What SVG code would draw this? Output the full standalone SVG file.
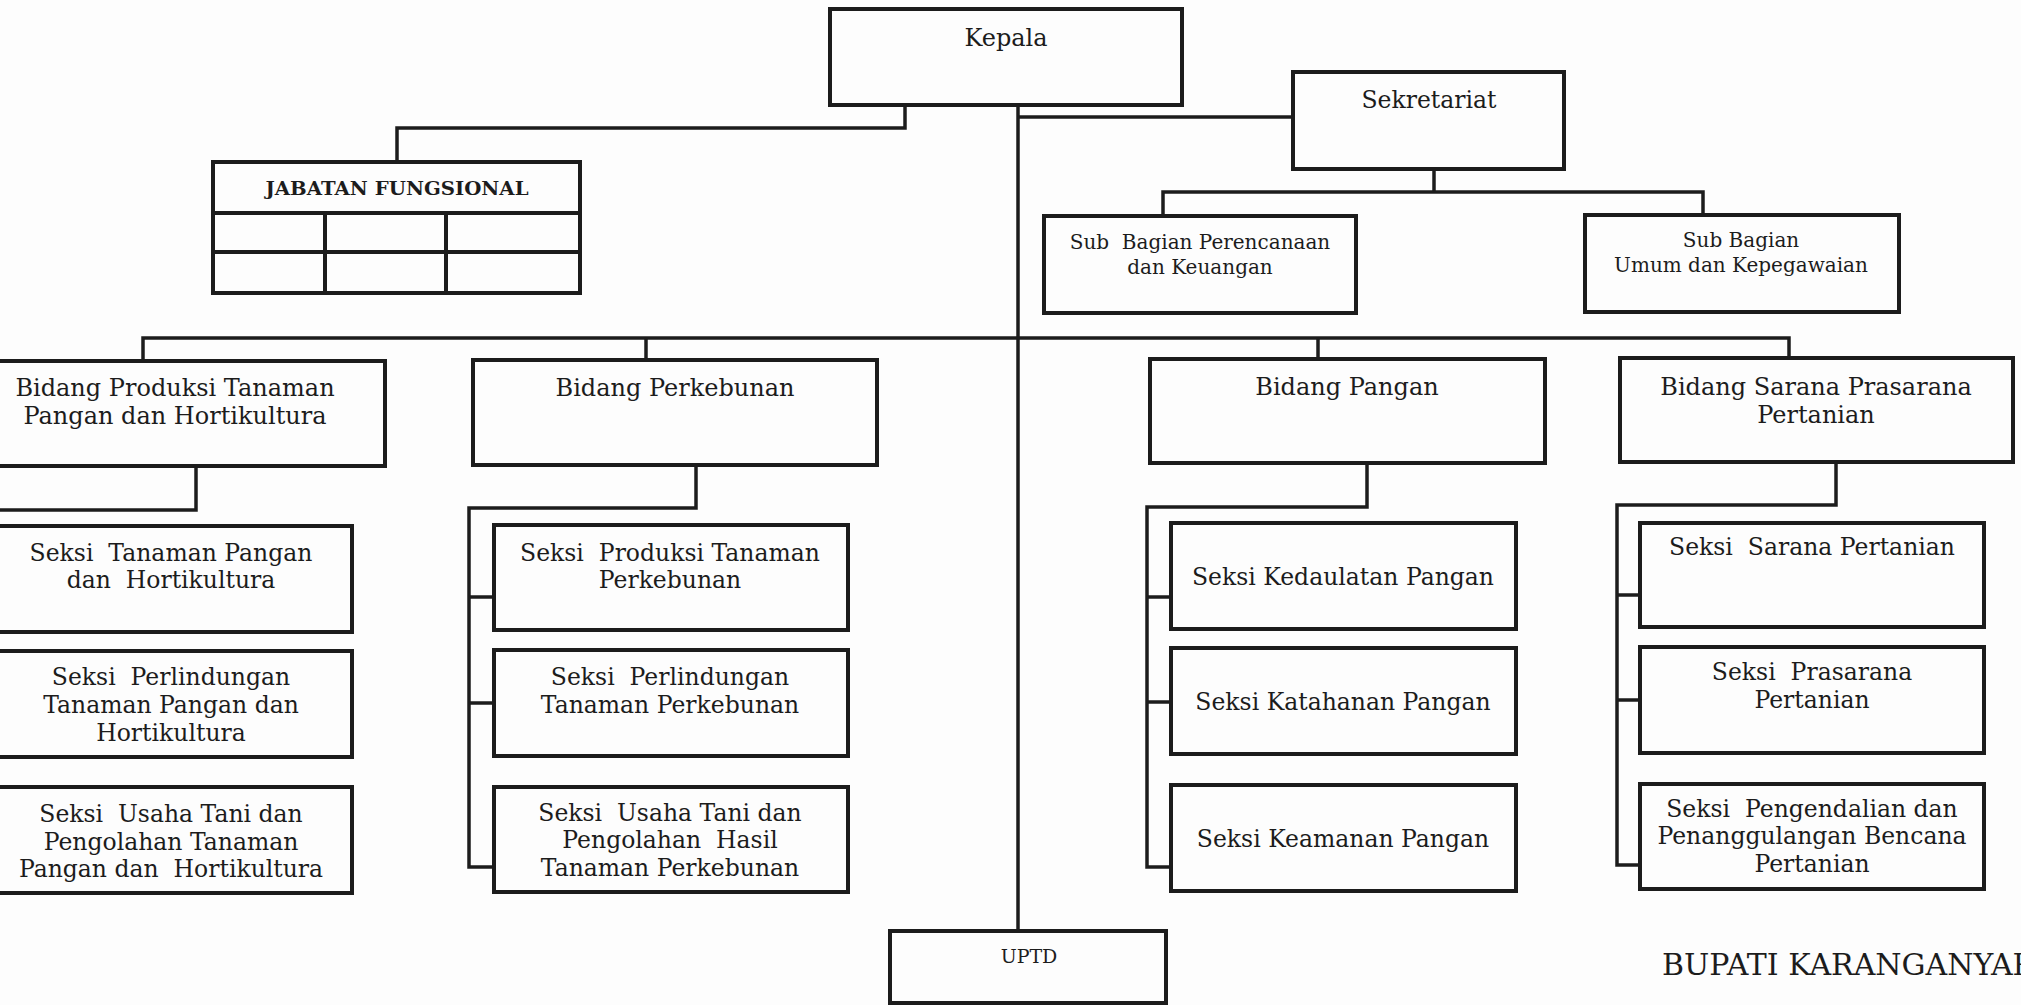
<svg xmlns="http://www.w3.org/2000/svg" width="2021" height="1005" viewBox="0 0 2021 1005">
<style>
.box{fill:none;stroke:#1c1c1c;stroke-width:4}
.ln{fill:none;stroke:#1c1c1c;stroke-width:3.5}
text{font-family:"DejaVu Serif","Liberation Serif",serif;fill:#1c1c1c;text-anchor:middle;white-space:pre}
.t24{font-size:24px}
.t23{font-size:23.5px}
.t20{font-size:20px}
.small{font-size:19px}
</style>
<rect x="0" y="0" width="2021" height="1005" fill="#fdfdfd"/>
<g id="connectors">
<path class="ln" d="M1018 105 V931"/>
<path class="ln" d="M905 105 V128 H397 V162"/>
<path class="ln" d="M1018 117 H1293"/>
<path class="ln" d="M1434 169 V192 M1163 216 V192 H1703 V215"/>
<path class="ln" d="M143 361 V338 H1789 V358 M646 338 V360 M1318 338 V359"/>
<path class="ln" d="M196 466 V510 H-5"/>
<path class="ln" d="M696 465 V508 H469 V867 H494 M469 597 H494 M469 703 H494"/>
<path class="ln" d="M1367 463 V507 H1147 V867 H1171 M1147 597 H1171 M1147 702 H1171"/>
<path class="ln" d="M1836 462 V505 H1617 V865 H1640 M1617 595 H1640 M1617 700 H1640"/>
</g>
<g id="kepala"><rect class="box" x="830" y="9" width="352" height="96"/><text class="t24" x="1006" y="46">Kepala</text></g>
<g id="sekretariat"><rect class="box" x="1293" y="72" width="271" height="97"/><text class="t23" x="1429" y="108">Sekretariat</text></g>
<g id="jabatan-fungsional"><rect class="box" x="213" y="162" width="367" height="131"/>
<path class="box" d="M213 213 H580 M213 252 H580 M325 213 V293 M446 213 V293"/>
<text class="small" x="397" y="195" font-weight="bold" textLength="263" lengthAdjust="spacingAndGlyphs">JABATAN FUNGSIONAL</text></g>
<g id="sub-perencanaan"><rect class="box" x="1044" y="216" width="312" height="97"/><text class="t20" x="1200" y="249">Sub  Bagian Perencanaan</text><text class="t20" x="1200" y="274">dan Keuangan</text></g>
<g id="sub-umum"><rect class="box" x="1585" y="215" width="314" height="97"/><text class="t20" x="1741" y="247">Sub Bagian</text><text class="t20" x="1741" y="272">Umum dan Kepegawaian</text></g>
<g id="bidang-produksi"><rect class="box" x="-10" y="361" width="395" height="105"/><text class="t24" x="175" y="396">Bidang Produksi Tanaman</text><text class="t24" x="175" y="424">Pangan dan Hortikultura</text></g>
<g id="bidang-perkebunan"><rect class="box" x="473" y="360" width="404" height="105"/><text class="t24" x="675" y="396">Bidang Perkebunan</text></g>
<g id="bidang-pangan"><rect class="box" x="1150" y="359" width="395" height="104"/><text class="t24" x="1347" y="395">Bidang Pangan</text></g>
<g id="bidang-sarana"><rect class="box" x="1620" y="358" width="393" height="104"/><text class="t24" x="1816" y="395">Bidang Sarana Prasarana</text><text class="t24" x="1816" y="423">Pertanian</text></g>
<g id="seksi-tanaman-pangan"><rect class="box" x="-10" y="526" width="362" height="106"/><text class="t23" x="171" y="561">Seksi  Tanaman Pangan</text><text class="t23" x="171" y="588">dan  Hortikultura</text></g>
<g id="seksi-perlindungan-tp"><rect class="box" x="-10" y="651" width="362" height="106"/><text class="t23" x="171" y="685">Seksi  Perlindungan</text><text class="t23" x="171" y="713">Tanaman Pangan dan</text><text class="t23" x="171" y="741">Hortikultura</text></g>
<g id="seksi-usaha-tani-tp"><rect class="box" x="-10" y="787" width="362" height="106"/><text class="t23" x="171" y="822">Seksi  Usaha Tani dan</text><text class="t23" x="171" y="850">Pengolahan Tanaman</text><text class="t23" x="171" y="877">Pangan dan  Hortikultura</text></g>
<g id="seksi-produksi-perkebunan"><rect class="box" x="494" y="525" width="354" height="105"/><text class="t23" x="670" y="561">Seksi  Produksi Tanaman</text><text class="t23" x="670" y="588">Perkebunan</text></g>
<g id="seksi-perlindungan-perkebunan"><rect class="box" x="494" y="650" width="354" height="106"/><text class="t23" x="670" y="685">Seksi  Perlindungan</text><text class="t23" x="670" y="713">Tanaman Perkebunan</text></g>
<g id="seksi-usaha-tani-perkebunan"><rect class="box" x="494" y="787" width="354" height="105"/><text class="t23" x="670" y="821">Seksi  Usaha Tani dan</text><text class="t23" x="670" y="848">Pengolahan  Hasil</text><text class="t23" x="670" y="876">Tanaman Perkebunan</text></g>
<g id="seksi-kedaulatan"><rect class="box" x="1171" y="523" width="345" height="106"/><text class="t23" x="1343" y="585">Seksi Kedaulatan Pangan</text></g>
<g id="seksi-katahanan"><rect class="box" x="1171" y="648" width="345" height="106"/><text class="t23" x="1343" y="710">Seksi Katahanan Pangan</text></g>
<g id="seksi-keamanan"><rect class="box" x="1171" y="785" width="345" height="106"/><text class="t23" x="1343" y="847">Seksi Keamanan Pangan</text></g>
<g id="seksi-sarana"><rect class="box" x="1640" y="523" width="344" height="104"/><text class="t23" x="1812" y="555">Seksi  Sarana Pertanian</text></g>
<g id="seksi-prasarana"><rect class="box" x="1640" y="647" width="344" height="106"/><text class="t23" x="1812" y="680">Seksi  Prasarana</text><text class="t23" x="1812" y="708">Pertanian</text></g>
<g id="seksi-pengendalian"><rect class="box" x="1640" y="784" width="344" height="105"/><text class="t23" x="1812" y="817">Seksi  Pengendalian dan</text><text class="t23" x="1812" y="844">Penanggulangan Bencana</text><text class="t23" x="1812" y="872">Pertanian</text></g>
<g id="uptd"><rect class="box" x="890" y="931" width="276" height="72"/><text class="small" x="1029" y="963">UPTD</text></g>
<text x="1662" y="975" style="font-size:30px;text-anchor:start">BUPATI KARANGANYAR</text>
</svg>
